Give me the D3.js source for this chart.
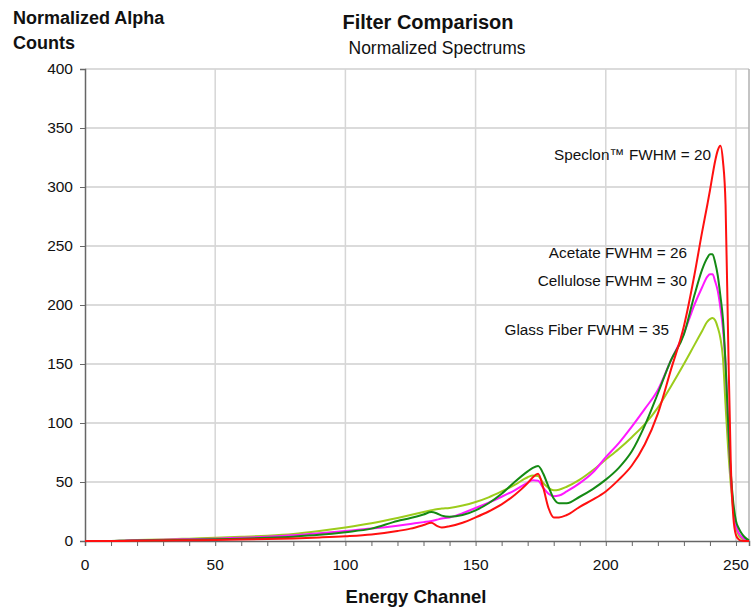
<!DOCTYPE html>
<html>
<head>
<meta charset="utf-8">
<script src="https://cdn.jsdelivr.net/npm/d3@7"></script>
<style>
  body { margin: 0; background: #fff; }
  text { font-family: "Liberation Sans", Arial, sans-serif; fill: #111; }
</style>
</head>
<body>
<div id="chart"></div>
<script>
// channels shared by all spectra
var channels = [0, 10, 15, 20, 30, 40, 50, 60, 70, 80, 90, 100, 110, 120, 125, 130, 133, 135, 137, 140,
  145, 150, 155, 160, 165, 170, 172, 174, 176, 178, 180, 182, 185, 190, 195, 200, 205, 210, 215, 220,
  225, 230, 234, 237, 239, 240, 241, 242, 243, 244, 245, 246, 247, 248, 249, 250, 251, 252, 253, 254, 255];

var glassFiber = [0, 0, 0.5, 0.8, 1.3, 2, 2.7, 3.5, 4.5, 6, 8.5, 11.5, 15, 19.5, 22, 24.5, 26, 27, 27.5, 28,
  30, 33, 37, 42, 47.5, 54, 55.5, 55, 49, 45, 43, 43.5, 46, 52, 60, 69, 78, 88, 99, 113,
  131, 150, 166, 178, 186, 188, 189, 187, 181, 172, 155, 115, 78, 48, 26, 12, 5, 2.5, 1, 0.5, 0];

var cellulose = [0, 0, 0.3, 0.6, 1, 1.5, 2, 2.8, 3.6, 4.8, 6.6, 8.5, 10.5, 13, 14.5, 16, 17, 18, 19, 20,
  23.5, 28, 32.5, 37.5, 43, 49.5, 51.5, 51, 45, 40, 38, 38.5, 42, 49, 58, 71, 83, 97, 112, 128,
  153, 176, 200, 215, 224, 226, 226, 220, 212, 198, 180, 150, 100, 55, 28, 13, 7, 4, 2, 1, 0];

var acetate = [0, 0, 0.2, 0.4, 0.7, 1, 1.5, 2, 2.7, 3.7, 5.2, 7.5, 10.5, 17, 19.5, 22.5, 24.5, 23.5, 21.5, 20.5,
  22, 26, 32, 40, 50, 59, 62, 63.5, 57, 46, 36, 32, 32, 37.5, 44, 52, 62, 76, 98, 125,
  153, 175, 208, 230, 240, 243, 243, 236, 225, 208, 188, 150, 100, 58, 32, 17, 11, 7, 4, 2, 0.5];

var speclon = [0, 0, 0, 0.2, 0.4, 0.6, 0.9, 1.2, 1.6, 2.2, 3, 4, 5.5, 8.5, 10.5, 13.5, 15.5, 13, 11.5, 12.5,
  15.5, 20, 25, 31, 39, 49, 54, 57, 45, 28, 20, 20, 22, 29, 35, 42, 52, 64, 82, 108,
  145, 182, 225, 262, 285, 297, 310, 322, 331, 335, 322, 285, 170, 66, 20, 5, 1.5, 0.3, 0, 0, 0];

var seriesNames = ["Glass Fiber", "Cellulose", "Acetate", "Speclon"];
var seriesValues = [glassFiber, cellulose, acetate, speclon];
var seriesColors = ["#9ccc1c", "#ff18ff", "#148a14", "#ff1010"];

// FWHM annotations, anchored (right end) at [channel, counts]
var labelTexts = ["Speclon\u2122 FWHM = 20", "Acetate FWHM = 26", "Cellulose FWHM = 30", "Glass Fiber FWHM = 35"];
var labelAt = [[240.4, 323], [231.2, 239.5], [231.2, 216], [224.3, 175]];

var yTicks = [0, 50, 100, 150, 200, 250, 300, 350, 400];
var xTicks = [0, 50, 100, 150, 200, 250];

var W = 753, H = 608;
var margin = {left: 85, right: 4, top: 69, bottom: 67};

var svg = d3.select("#chart").append("svg")
    .attr("width", W)
    .attr("height", H);

var x = d3.scaleLinear().domain([0, 255]).range([margin.left, W - margin.right]);
var y = d3.scaleLinear().domain([0, 400]).range([H - margin.bottom, margin.top]);

// grid
svg.append("g").selectAll("line").data(yTicks.slice(1))
  .enter().append("line")
    .attr("x1", x(0)).attr("x2", x(255))
    .attr("y1", function(d){ return y(d); }).attr("y2", function(d){ return y(d); })
    .attr("stroke", "#cfcfcf").attr("stroke-width", 1.5);

svg.append("g").selectAll("line").data(xTicks.slice(1).concat([255]))
  .enter().append("line")
    .attr("x1", function(d){ return x(d); }).attr("x2", function(d){ return x(d); })
    .attr("y1", y(0)).attr("y2", y(400))
    .attr("stroke", function(d){ return d == 255 ? "#b0b0b0" : "#d6d6d6"; })
    .attr("stroke-width", 1.5);

// axes
var xAxis = d3.axisBottom(x).tickValues(d3.range(0, 256, 10)).tickSize(5).tickFormat("");
svg.append("g").attr("transform", "translate(0," + y(0) + ")").call(xAxis)
  .call(function(g){ g.select(".domain").attr("stroke", "#666").attr("stroke-width", 1.5); g.selectAll(".tick line").attr("stroke", "#666"); });

svg.append("g").selectAll("text").data(xTicks)
  .enter().append("text")
    .attr("x", function(d){ return x(d); })
    .attr("y", y(0) + 29)
    .attr("text-anchor", "middle")
    .style("font-size", "15.5px")
    .text(function(d){ return d; });

var yAxis = d3.axisLeft(y).tickValues(yTicks).tickSize(5).tickPadding(7);
svg.append("g").attr("transform", "translate(" + x(0) + ",0)").call(yAxis)
  .call(function(g){
    g.select(".domain").attr("stroke", "#666").attr("stroke-width", 1.5);
    g.selectAll(".tick line").attr("stroke", "#666");
    g.selectAll(".tick text").style("font-size", "15.5px").style("font-family", "Liberation Sans, Arial, sans-serif").attr("fill", "#111");
  });

// lines
var line = d3.line()
  .x(function(d){ return x(d[0]); })
  .y(function(d){ return y(d[1]); })
  .curve(d3.curveMonotoneX);

seriesValues.forEach(function(vals, i){
  svg.append("path")
    .datum(channels.map(function(c, j){ return [c, vals[j]]; }))
    .attr("fill", "none")
    .attr("stroke", seriesColors[i])
    .attr("stroke-width", 2)
    .attr("stroke-linejoin", "round")
    .attr("d", line);
});

// FWHM labels
svg.append("g").selectAll("text").data(labelTexts)
  .enter().append("text")
    .attr("x", function(d, i){ return x(labelAt[i][0]); })
    .attr("y", function(d, i){ return y(labelAt[i][1]); })
    .attr("text-anchor", "end")
    .style("font-size", "15.3px")
    .text(function(d){ return d; });

// titles
svg.append("text").attr("x", 428).attr("y", 29).attr("text-anchor", "middle")
  .style("font-size", "20px").style("font-weight", "bold").text("Filter Comparison");
svg.append("text").attr("x", 437).attr("y", 54).attr("text-anchor", "middle")
  .style("font-size", "17.5px").text("Normalized Spectrums");
svg.append("text").attr("x", 13).attr("y", 24)
  .style("font-size", "18px").style("font-weight", "bold").text("Normalized Alpha");
svg.append("text").attr("x", 13).attr("y", 49)
  .style("font-size", "18px").style("font-weight", "bold").text("Counts");
svg.append("text").attr("x", 416).attr("y", 603).attr("text-anchor", "middle")
  .style("font-size", "18.5px").style("font-weight", "bold").text("Energy Channel");
</script>
</body>
</html>
